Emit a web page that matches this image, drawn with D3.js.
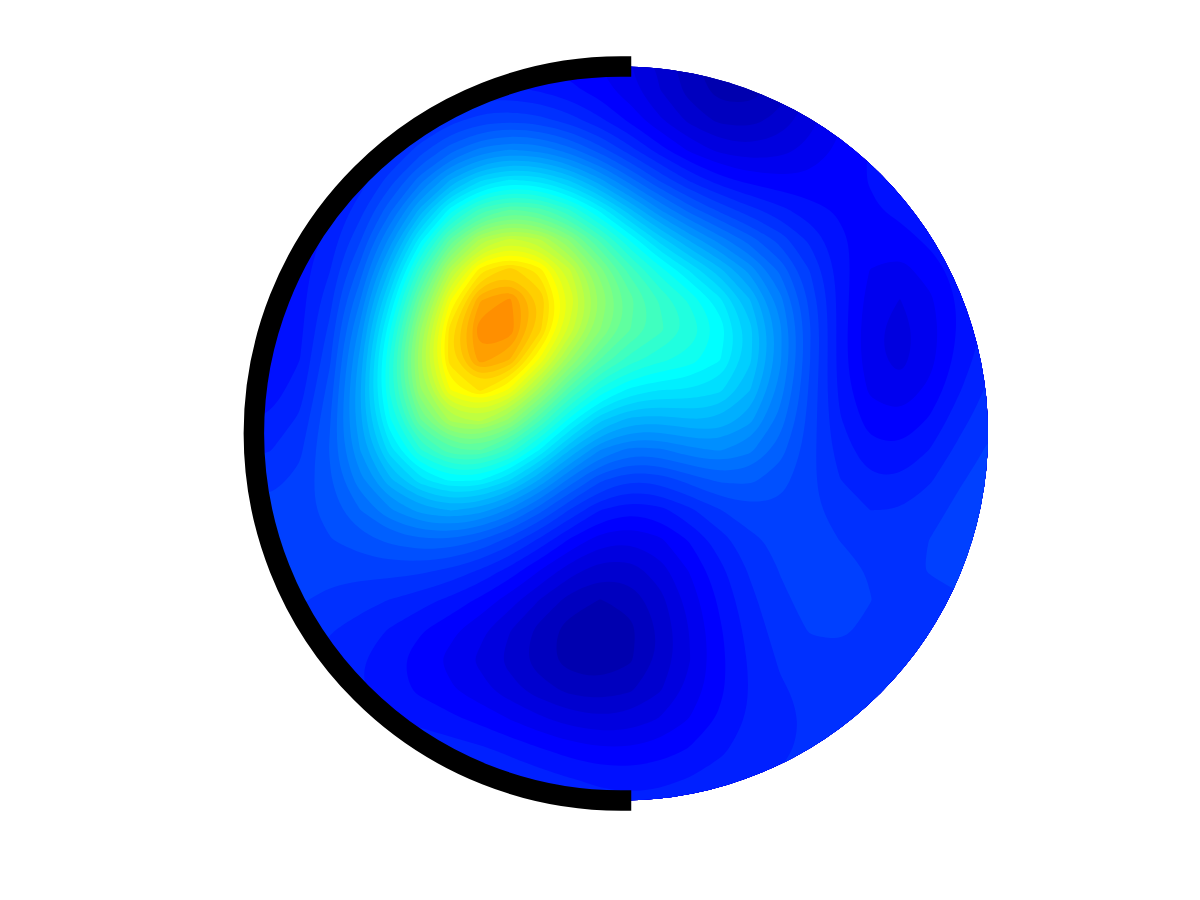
<!DOCTYPE html>
<html>
<head>
<meta charset="utf-8">
<style>
  html, body { margin: 0; background: #fff; }
  svg { display: block; }
</style>
<script src="https://cdn.jsdelivr.net/npm/d3@7"></script>
</head>
<body>
<svg id="chart" width="1200" height="900"></svg>
<script>
// values, one row per y (in colormap index units, 0-64)
const xTicks = [240,270,300,330,360,390,420,450,480,510,540,570,600,630,660,690,720,750,780,810,840,870,900,930,960,990];
const yTicks = [60,90,120,150,180,210,240,270,300,330,360,390,420,450,480,510,540,570,600,630,660,690,720,750,780,810];
const r60  = [9,9,9,9,9,9,9,9,9,8.8,8.5,8.2,8,7.5,6,4.2,2.6,2.2,3,5,7,8.5,9.5,10,10,10];
const r90  = [9,9,9,9,9,9,9,9.5,9.5,9.5,9,8.5,7.8,6.8,5.4,3.6,2.2,2.2,4,6.2,8,9.2,10,10.5,10.5,10.5];
const r120 = [9,9,9,9,9,9,10,11,11.8,12,11.5,10.5,9.5,8.2,6.5,5,3.5,3.5,5,7,8.3,9.3,10,10.5,11,11];
const r150 = [9,9,9,9,9,9.5,11,13.5,15.5,16.5,16,14.5,12.5,10.3,8.5,7,6,5.5,6,7,8,9,10,10.5,11,11];
const r180 = [9,9,9,9,10,11.5,15,19.5,22.5,24,23.5,21,18,14.5,12,10,9,8.5,8,8,8.2,9.5,10.5,10.8,11,11];
const r210 = [9,9,9,9.5,10.5,13.5,17.5,25,29,30.5,30,27.5,24.5,20,16,13.5,11.5,10.5,10,9,8,8.5,9.5,10.5,11,11];
const r240 = [9,9,9,9.5,11,16,23,32,38,40.5,38.5,34,29.5,25.5,21.5,19,16.5,14.5,13,11,8.8,8,7.8,9.5,10.5,11];
const r270 = [9,9,9,10,12,20,28,37,45,48.5,45.5,38.5,33,29,26,23.7,20.5,18,15,12.5,9,7.2,6.5,8,9.5,10.5];
const r300 = [8.5,8.5,9,10.5,13.5,22.5,30,41.5,51,52.5,46,39.5,35,31,28.5,26.5,25,21,16.5,12.5,9,6.6,5.8,7.5,9.5,10.5];
const r330 = [8.3,8.3,9,10.5,16,24.7,34.5,46,54,54,45.5,37.5,33.5,30.5,30.5,30.5,27,23,18,13,9,6.1,4.6,7,9.5,11];
const r360 = [8.2,8.2,8.9,10.8,16.5,27,36,47.5,53,49,40.5,33.5,30,27,26,26,25.5,23,17.5,12.5,8.8,6.1,4.8,7,9.5,12];
const r390 = [9,9.1,9.4,11.3,18,27.5,35.5,43.5,47.5,42,32,27.5,24.9,23.5,22.5,23,23.8,21.5,16.5,12,8.8,6.8,6.2,7.6,9.5,12.5];
const r420 = [9.9,9.9,10.2,12,19,25,32,38.5,39,33.5,29,24,20,18,19,20.5,21.5,19.5,15.5,12.3,9.5,8,7.6,8.5,11.3,12.5];
const r450 = [10.7,10.7,11,13,19,22.5,28,31,31.5,28,24.7,19.5,15.5,14.5,15.5,17.5,18.5,17,14,12.5,10.5,8.3,8.3,9.8,12,12.7];
const r480 = [11.6,11.6,11.7,12.6,17,20,22.5,25.5,25.5,23,18,14.5,12,10.5,11,13,14.5,14.5,13.2,12.2,10.6,9.5,9.2,10.6,12.6,12.8];
const r510 = [12.4,12.4,12.3,12.7,14.5,17,19,20,18.5,16,14,11.5,9,8.2,8.7,10,11.3,12.5,13,12.5,11.7,10.9,11,12,12.8,12.8];
const r540 = [13,13,12.8,12.9,13.2,13.6,14,13.6,12.7,12,10,8.3,6.2,6.2,7,8.9,10.3,12,12.8,12.7,12,11.4,11.4,12.3,12.8,12.8];
const r570 = [13.4,13.4,12.9,12.4,12.3,12.3,12.3,12,10.8,9.8,8,6,4.6,5,6,8,9.7,11.4,12.3,12.6,12.6,11.9,11.5,12.6,12.8,12.7];
const r600 = [13,13,12,11.4,11.3,11,10.2,9.7,8.8,7.5,5.5,3.6,2.8,3.4,5.3,7.3,9.3,11,12.2,12.8,12.9,12.3,11.5,11.6,11.7,12];
const r630 = [12,12,11.5,10.9,10.7,9.8,8.6,7.8,6.8,5.5,3.7,2.4,1.9,2.6,4.7,7,8.9,10.6,11.8,12.7,12.6,11.7,11.4,11.4,11.4,11.5];
const r660 = [11.5,11.5,11,10.5,10,8.9,7.8,7.2,6.2,5,3.3,2.4,2,2.5,4.7,6.9,8.8,10.4,11.2,12,11.9,11.4,11.3,11.3,11.3,11.3];
const r690 = [11,11,11,10.5,10,9,8.2,7.8,7,5.9,4.8,4,3.6,4,5.4,7,8.8,10.3,11,11.2,11.3,11.3,11.3,11.3,11.3,11.3];
const r720 = [11,11,11,10.5,10.2,10,9.8,9.2,9,8,7.2,6.5,6,6.2,6.8,7.6,9,10.3,11,11,11.2,11.2,11.2,11.2,11.2,11.2];
const r750 = [11,11,11,11,11,11,11,11,10.7,10,9.6,8.9,8,8.2,8.4,9,9.9,10.6,11,11.1,11.2,11.2,11.2,11.2,11.2,11.2];
const r780 = [12,12,12,12,12,12,12,12,12,11.5,11,10.5,10,10,9.9,10.5,10.6,10.9,11.2,11.3,11.3,11.3,11.3,11.3,11.3,11.3];
const r810 = [12,12,12,12,12,12,12,12,12,12,11.5,11.5,11,11,11,11,11,11.2,11.3,11.3,11.3,11.3,11.3,11.3,11.3,11.3];
const rows = [r60,r90,r120,r150,r180,r210,r240,r270,r300,r330,r360,r390,r420,r450,r480,r510,r540,r570,r600,r630,r660,r690,r720,r750,r780,r810];
const levels = d3.range(1, 48);

const cx = 621, cy = 433.5, radius = 367;

const svg = d3.select("#chart");
const nx = xTicks.length, ny = yTicks.length;

// d3.contours puts sample i at i + 0.5
const x = d3.scaleLinear().domain([0.5, nx - 0.5]).range([xTicks[0], xTicks[nx - 1]]);
const y = d3.scaleLinear().domain([0.5, ny - 0.5]).range([yTicks[0], yTicks[ny - 1]]);

// jet colormap, 64 rows; the reference stops at row 3 on the dark side and row 47 on the hot side
const jet = d3.scaleLinear()
  .domain([0, 8, 24, 40, 56, 64])
  .range(["rgb(0,0,127)", "rgb(0,0,255)", "rgb(0,255,255)", "rgb(255,255,0)", "rgb(255,0,0)", "rgb(127,0,0)"]);

svg.append("defs").append("clipPath").attr("id", "disk")
  .append("circle").attr("cx", cx).attr("cy", cy).attr("r", radius);

// hand-read numbers are noisy, take the jitter out before contouring
const grid = d3.blur2({data: rows.flat(), width: nx, height: ny}, 0.3).data;
const contours = d3.contours().size([nx, ny]).smooth(true).thresholds(levels)(Array.from(grid));

const ring = d3.line().x(d => x(d[0])).y(d => y(d[1])).curve(d3.curveBasisClosed);

svg.append("g").attr("clip-path", "url(#disk)")
  .selectAll("path")
  .data(contours)
  .join("path")
    .attr("fill", d => jet(Math.max(d.value, 3)))
    .attr("d", d => d.coordinates.map(poly => poly.map(r => ring(r.slice(0, -1))).join("")).join(""));

// black half circle on the left
const p = d3.path();
p.arc(cx, cy, radius, -Math.PI / 2, Math.PI / 2, true);
svg.append("path")
  .attr("d", p.toString())
  .attr("fill", "none")
  .attr("stroke", "#000")
  .attr("stroke-width", 20.5)
  .attr("stroke-linecap", "square");
</script>
</body>
</html>
